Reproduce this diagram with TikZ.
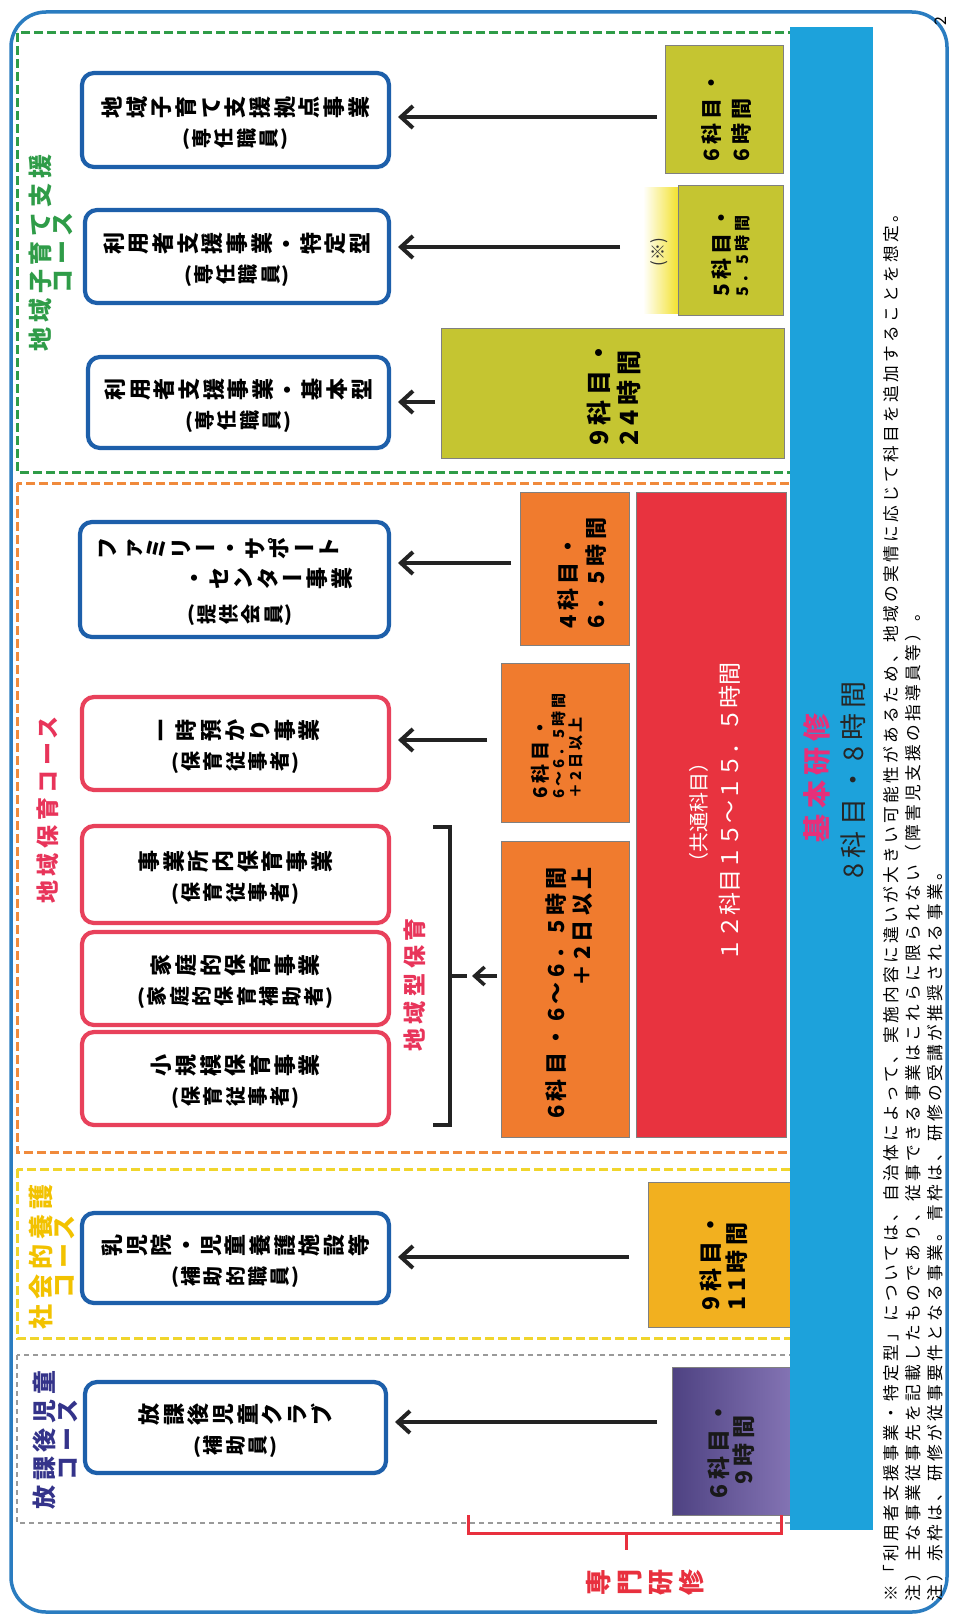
\documentclass[tikz,border=0pt]{standalone}
\usepackage{fontspec}
\usepackage{graphicx}
\setmainfont{Noto Sans CJK JP}
\newfontfamily\jpw{Noto Sans CJK JP}[LetterSpace=20]
\usetikzlibrary{arrows.meta,calc}

\definecolor{boxblue}{HTML}{1D5FAA}
\definecolor{boxred}{HTML}{E8415B}
\definecolor{frameblue}{HTML}{2A7CC0}
\definecolor{basecol}{HTML}{1DA2DB}
\definecolor{olivecol}{HTML}{C5C531}
\definecolor{orangecol}{HTML}{F07B2E}
\definecolor{redcol}{HTML}{E8333F}
\definecolor{ambercol}{HTML}{F2B01F}
\definecolor{purplecol}{HTML}{8373B3}
\definecolor{purpledark}{HTML}{4E4282}
\definecolor{greendash}{HTML}{2F9C48}
\definecolor{orangedash}{HTML}{F08A3C}
\definecolor{yellowdash}{HTML}{F0D52C}
\definecolor{graydash}{HTML}{9A9A9A}
\definecolor{greenlab}{HTML}{2F9C48}
\definecolor{pinklab}{HTML}{E8345A}
\definecolor{yellowlab}{HTML}{F2C200}
\definecolor{navylab}{HTML}{34338A}
\definecolor{basetxt}{HTML}{E6307A}
\definecolor{senmon}{HTML}{E8303E}
\definecolor{notegold}{HTML}{F3E22E}
\definecolor{arrowcol}{HTML}{232323}

\newcommand\fs[2]{\fontsize{#1}{#2}\selectfont}
\newcommand\subf{\fontsize{20}{30}\selectfont}
\def\tatep{1.12}
\newcommand\tatechar[1]{\makebox[\tatep em]{\rotatebox[origin=c]{90}{\makebox[1em]{\rule[-.12em]{0pt}{1em}\smash{#1}}}}}
\ExplSyntaxOn
\NewDocumentCommand\tate{m}
 {
  \tl_map_inline:nn {#1}
   {
    \str_case:nnF {##1}
     {
      {(}{##1}
      {)}{##1}
      {・}{\makebox[\tatep em]{##1}}
      {ー}{\makebox[\tatep em]{##1}}
     }
     {\tatechar{##1}}
   }
 }
\ExplSyntaxOff
\newcommand\mkrect[6]{\node[#2, anchor=north west, minimum width={#5-#3}, minimum height={#6-#4}] (#1) at (#3,#4) {};}

\begin{document}
\begin{tikzpicture}[x=1pt,y=-1pt,
  rbox/.style={draw, line width=4.2, rounded corners=12, fill=white, inner sep=0, outer sep=0},
  bluebox/.style={rbox, draw=boxblue},
  redbox/.style={rbox, draw=boxred},
  barbox/.style={draw=black!50, line width=0.8, inner sep=0, outer sep=0},
  plainbox/.style={draw=none, inner sep=0, outer sep=0},
  btxt/.style={align=center, inner sep=0, font=\bfseries\fs{22}{30}},
  rtxt/.style={rotate=90, inner sep=0},
  arr/.style={draw=arrowcol, line width=4, -{Straight Barb[length=12pt,width=22pt]}},
  brack/.style={draw=arrowcol, line width=3.5},
  gdash/.style={draw=greendash, line width=3, dash pattern=on 9pt off 4pt},
  odash/.style={draw=orangedash, line width=3, dash pattern=on 9pt off 4pt},
  ydash/.style={draw=yellowdash, line width=3, dash pattern=on 9pt off 4pt},
  kdash/.style={draw=graydash, line width=2, dash pattern=on 5pt off 4pt},
]
\useasboundingbox (0,0) rectangle (953,1619);
\fill[white] (0,0) rectangle (953,1619);

% outer frame
\draw[frameblue, line width=3.5, rounded corners=35] (11,12) rectangle (947,1612);

% course frames
\draw[gdash] (17,33) rectangle (800,472);
\draw[odash] (17,483) rectangle (800,1152);
\draw[ydash] (17,1169) rectangle (800,1338);
\draw[kdash] (17,1355) rectangle (800,1523);

% bars
\mkrect{b1}{barbox, fill=olivecol}{665}{45}{783}{173}
\mkrect{note}{plainbox, left color=white, right color=notegold}{643}{187}{678}{313}
\mkrect{b2}{barbox, fill=olivecol}{678}{185}{783}{315}
\mkrect{b3}{barbox, fill=olivecol}{441}{328}{784}{458}
\mkrect{b4}{barbox, fill=orangecol}{520}{492}{629}{645}
\mkrect{b5}{barbox, fill=orangecol}{501}{663}{629}{822}
\mkrect{b6}{barbox, fill=orangecol}{501}{841}{629}{1137}
\mkrect{red}{barbox, fill=redcol}{636}{492}{786}{1137}
\mkrect{b7}{barbox, fill=ambercol}{648}{1182}{790}{1327}
\mkrect{b8}{barbox, left color=purpledark, right color=purplecol}{672}{1367}{790}{1515}
\mkrect{base}{plainbox, fill=basecol}{790}{27}{873}{1530}

% boxes
\mkrect{B1}{bluebox}{82}{73}{389}{167}
\mkrect{B2}{bluebox}{85}{210}{389}{303}
\mkrect{B3}{bluebox}{88}{357}{389}{448}
\mkrect{B4}{bluebox}{80}{522}{389}{637}
\mkrect{B5}{redbox}{82}{697}{389}{790}
\mkrect{B6}{redbox}{82}{826}{389}{923}
\mkrect{B7}{redbox}{82}{932}{389}{1025}
\mkrect{B8}{redbox}{82}{1032}{389}{1125}
\mkrect{B9}{bluebox}{82}{1213}{389}{1303}
\mkrect{B10}{bluebox}{85}{1382}{386}{1473}

% box texts
\node[btxt] (B1t) at ($(B1.center)+(0,3)$) {\tate{地域子育て支援拠点事業}\\{\subf\tate{(専任職員)}}};
\node[btxt] (B2t) at ($(B2.center)+(0,3)$) {\tate{利用者支援事業・特定型}\\{\subf\tate{(専任職員)}}};
\node[btxt] (B3t) at ($(B3.center)+(0,3)$) {\tate{利用者支援事業・基本型}\\{\subf\tate{(専任職員)}}};
\node[btxt] (B4a) at (218,548) {\tate{ファミリー・サポート}};
\node[btxt] (B4b) at (268,578) {\tate{・センター事業}};
\node[btxt] (B4c) at (240,615) {\subf\tate{(提供会員)}};
\node[btxt] (B5t) at ($(B5.center)+(0,3)$) {\tate{一時預かり事業}\\{\subf\tate{(保育従事者)}}};
\node[btxt] (B6t) at ($(B6.center)+(0,3)$) {\tate{事業所内保育事業}\\{\subf\tate{(保育従事者)}}};
\node[btxt] (B7t) at ($(B7.center)+(0,3)$) {\tate{家庭的保育事業}\\{\subf\tate{(家庭的保育補助者)}}};
\node[btxt] (B8t) at ($(B8.center)+(0,3)$) {\tate{小規模保育事業}\\{\subf\tate{(保育従事者)}}};
\node[btxt] (B9t) at ($(B9.center)+(0,3)$) {\tate{乳児院・児童養護施設等}\\{\subf\tate{(補助的職員)}}};
\node[btxt] (B10t) at ($(B10.center)+(0,3)$) {\tate{放課後児童クラブ}\\{\subf\tate{(補助員)}}};

% arrows
\coordinate (a1) at (657,117);
\coordinate (a2) at (620,247);
\coordinate (a3) at (435,402);
\coordinate (a4) at (511,563);
\coordinate (a5) at (487,740);
\coordinate (a7) at (629,1257);
\coordinate (a8) at (657,1422);
\draw[arr, shorten >=9pt] (a1) -- (a1 -| B1.east);
\draw[arr, shorten >=9pt] (a2) -- (a2 -| B2.east);
\draw[arr, shorten >=9pt] (a3) -- (a3 -| B3.east);
\draw[arr, shorten >=9pt] (a4) -- (a4 -| B4.east);
\draw[arr, shorten >=9pt] (a5) -- (a5 -| B5.east);
\draw[arr, shorten >=9pt] (a7) -- (a7 -| B9.east);
\draw[arr, shorten >=9pt] (a8) -- (a8 -| B10.east);

% bracket for 地域型保育
\draw[brack] (433,827) -- (450,827) -- (450,1125) -- (433,1125);
\coordinate (brk) at (467,976);
\draw[brack] (450,976) -- (brk);
\coordinate (a6) at (497,976);
\draw[arr, line width=3.5, -{Straight Barb[length=10pt,width=18pt]}, shorten >=5pt] (a6) -- (brk);
\node[rtxt, font=\jpw\bfseries\fs{23}{25}, text=pinklab] (kgata) at (415,985) {地域型保育};

% 専門研修 bracket
\draw[senmon, line width=3] (468,1515) -- (468,1533) -- (781,1533) -- (781,1515);
\coordinate (smt) at (626,1550);
\draw[senmon, line width=3] (626,1533) -- (smt);
\node[inner sep=0, font=\bfseries\fs{26}{28}, text=senmon] (senmon) at (645,1582) {\def\tatep{1.2}\tate{専門研修}};

% bar texts
\node[rtxt, align=left, font=\jpw\bfseries\fs{21}{30}] (T1) at (726,117) {6科目・\\6時間};
\node[rtxt, font=\fs{17}{18}, text=black!80] (T2n) at (659,252) {(※)};
\node[rtxt, align=left, font=\jpw\bfseries\fs{21}{19}] (T2) at (731,252) {5科目・\\{\fs{16}{19}5．5時間}};
\node[rtxt, align=left, font=\jpw\bfseries\fs{25}{30}] (T3) at (614,393) {9科目・\\24時間};
\node[rtxt, align=left, font=\jpw\bfseries\fs{22}{28}] (T4) at (582,573) {4科目・\\6．5時間};
\node[rtxt, align=left, font=\jpw\bfseries\fs{19}{17}] (T5) at (557,746) {6科目・\\{\fs{15}{17}6～6．5時間}\\{\fs{15}{17}＋2日以上}};
\node[rtxt, align=right, font=\jpw\bfseries\fs{22}{26}] (T6) at (569,993) {6科目・6～6．5時間\\＋2日以上};
\node[rtxt, align=center, font=\fs{20}{32}, text=white] (Rt) at (715,812) {（共通科目）\\{\fs{23}{32}１２科目１５～１５．５時間}};
\node[rtxt, align=left, font=\jpw\bfseries\fs{23}{26}] (T7) at (724,1262) {9科目・\\11時間};
\node[rtxt, align=center, font=\jpw\bfseries\fs{23}{25}, text={black!90}] (T8) at (731,1450) {6科目・\\9時間};

% base
\node[rtxt, font=\jpw\bfseries\fs{28}{30}, text=basetxt] (baseA) at (817,778) {基本研修};
\node[rtxt, font=\jpw\fs{27}{30}, text=black!85] (baseB) at (853,780) {8科目・8時間};

% course labels
\node[rtxt, align=center, font=\jpw\bfseries\fs{24}{22}, text=greenlab] (L1) at (51,253) {地域子育て支援\\コース};
\node[rtxt, font=\jpw\bfseries\fs{23}{25}, text=pinklab] (L2) at (48,810) {地域保育コース};
\node[rtxt, align=center, font=\jpw\bfseries\fs{25}{23}, text=yellowlab] (L3) at (52,1257) {社会的養護\\コース};
\node[rtxt, align=center, font=\jpw\bfseries\fs{24}{23}, text=navylab] (L4) at (55,1440) {放課後児童\\コース};

% footnotes
\node[rtxt, anchor=north west, align=left, font=\jpw\fs{16.7}{22}, text=black] (F) at (883,1602) {※「利用者支援事業・特定型」については、自治体によって、実施内容に違いが大きい可能性があるため、地域の実情に応じて科目を追加することを想定。\\注）主な事業従事先を記載したものであり、従事できる事業はこれらに限られない（障害児支援の指導員等）。\\注）赤枠は、研修が従事要件となる事業。青枠は、研修の受講が推奨される事業。};

% page number
\node[rtxt, font=\fs{16}{18}] (pg) at (941,21) {2};
\end{tikzpicture}
\end{document}
